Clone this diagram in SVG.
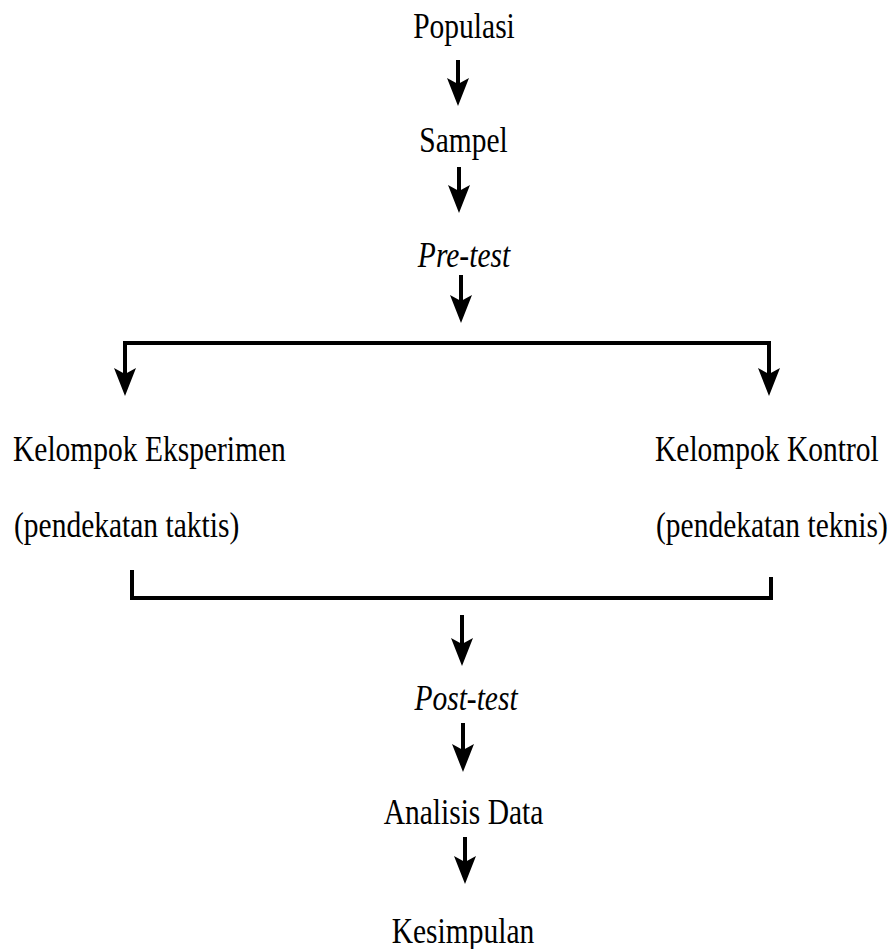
<svg xmlns="http://www.w3.org/2000/svg" width="888" height="949" viewBox="0 0 888 949">
<style>
.t{font-family:"Liberation Serif","Times New Roman",serif;font-size:29.5px;fill:#000}
.i{font-style:italic}
.ln{stroke:#000;stroke-width:4;fill:none}
.hd{fill:#000;stroke:none}
</style>
<defs>
<path id="ah" d="M-11,0 L0,6 L11,0 L0,28 Z"/>
</defs>
<rect width="888" height="949" fill="#fff"/>
<g id="connectors">
  <!-- Populasi -> Sampel -->
  <line class="ln" x1="458" y1="60" x2="458" y2="95"/>
  <use href="#ah" class="hd" x="458" y="78"/>
  <!-- Sampel -> Pre-test -->
  <line class="ln" x1="459" y1="167" x2="459" y2="203"/>
  <use href="#ah" class="hd" x="459" y="185"/>
  <!-- Pre-test arrow -->
  <line class="ln" x1="461" y1="275" x2="461" y2="312"/>
  <use href="#ah" class="hd" x="461" y="295"/>
  <!-- top bracket -->
  <polyline class="ln" points="125,385 125,343 769,343 769,385"/>
  <use href="#ah" class="hd" x="125" y="368"/>
  <use href="#ah" class="hd" x="769" y="368"/>
  <!-- bottom bracket -->
  <polyline class="ln" points="132,570 132,598 771,598 771,577"/>
  <!-- to Post-test -->
  <line class="ln" x1="462" y1="615" x2="462" y2="652"/>
  <use href="#ah" class="hd" x="462" y="638"/>
  <!-- Post-test -> Analisis Data -->
  <line class="ln" x1="463" y1="723" x2="463" y2="760"/>
  <use href="#ah" class="hd" x="463" y="744"/>
  <!-- Analisis Data -> Kesimpulan -->
  <line class="ln" x1="465" y1="837" x2="465" y2="872"/>
  <use href="#ah" class="hd" x="465" y="856"/>
</g>
<g id="populasi"><text class="t" text-anchor="middle" transform="translate(464,38) scale(1,1.2)">Populasi</text></g>
<g id="sampel"><text class="t" text-anchor="middle" transform="translate(463.5,152) scale(1,1.2)">Sampel</text></g>
<g id="pretest"><text class="t i" text-anchor="middle" transform="translate(464,267) scale(1,1.2)">Pre-test</text></g>
<g id="eksperimen">
  <text class="t" transform="translate(13,461) scale(1,1.2)">Kelompok Eksperimen</text>
  <text class="t" transform="translate(14,537) scale(1,1.2)">(pendekatan taktis)</text>
</g>
<g id="kontrol">
  <text class="t" transform="translate(655,461) scale(1,1.2)">Kelompok Kontrol</text>
  <text class="t" transform="translate(656,537) scale(1,1.2)">(pendekatan teknis)</text>
</g>
<g id="posttest"><text class="t i" text-anchor="middle" transform="translate(466,710) scale(1,1.2)">Post-test</text></g>
<g id="analisis"><text class="t" text-anchor="middle" transform="translate(463.5,824) scale(1,1.2)">Analisis Data</text></g>
<g id="kesimpulan"><text class="t" text-anchor="middle" transform="translate(463,943) scale(1,1.2)">Kesimpulan</text></g>
</svg>
